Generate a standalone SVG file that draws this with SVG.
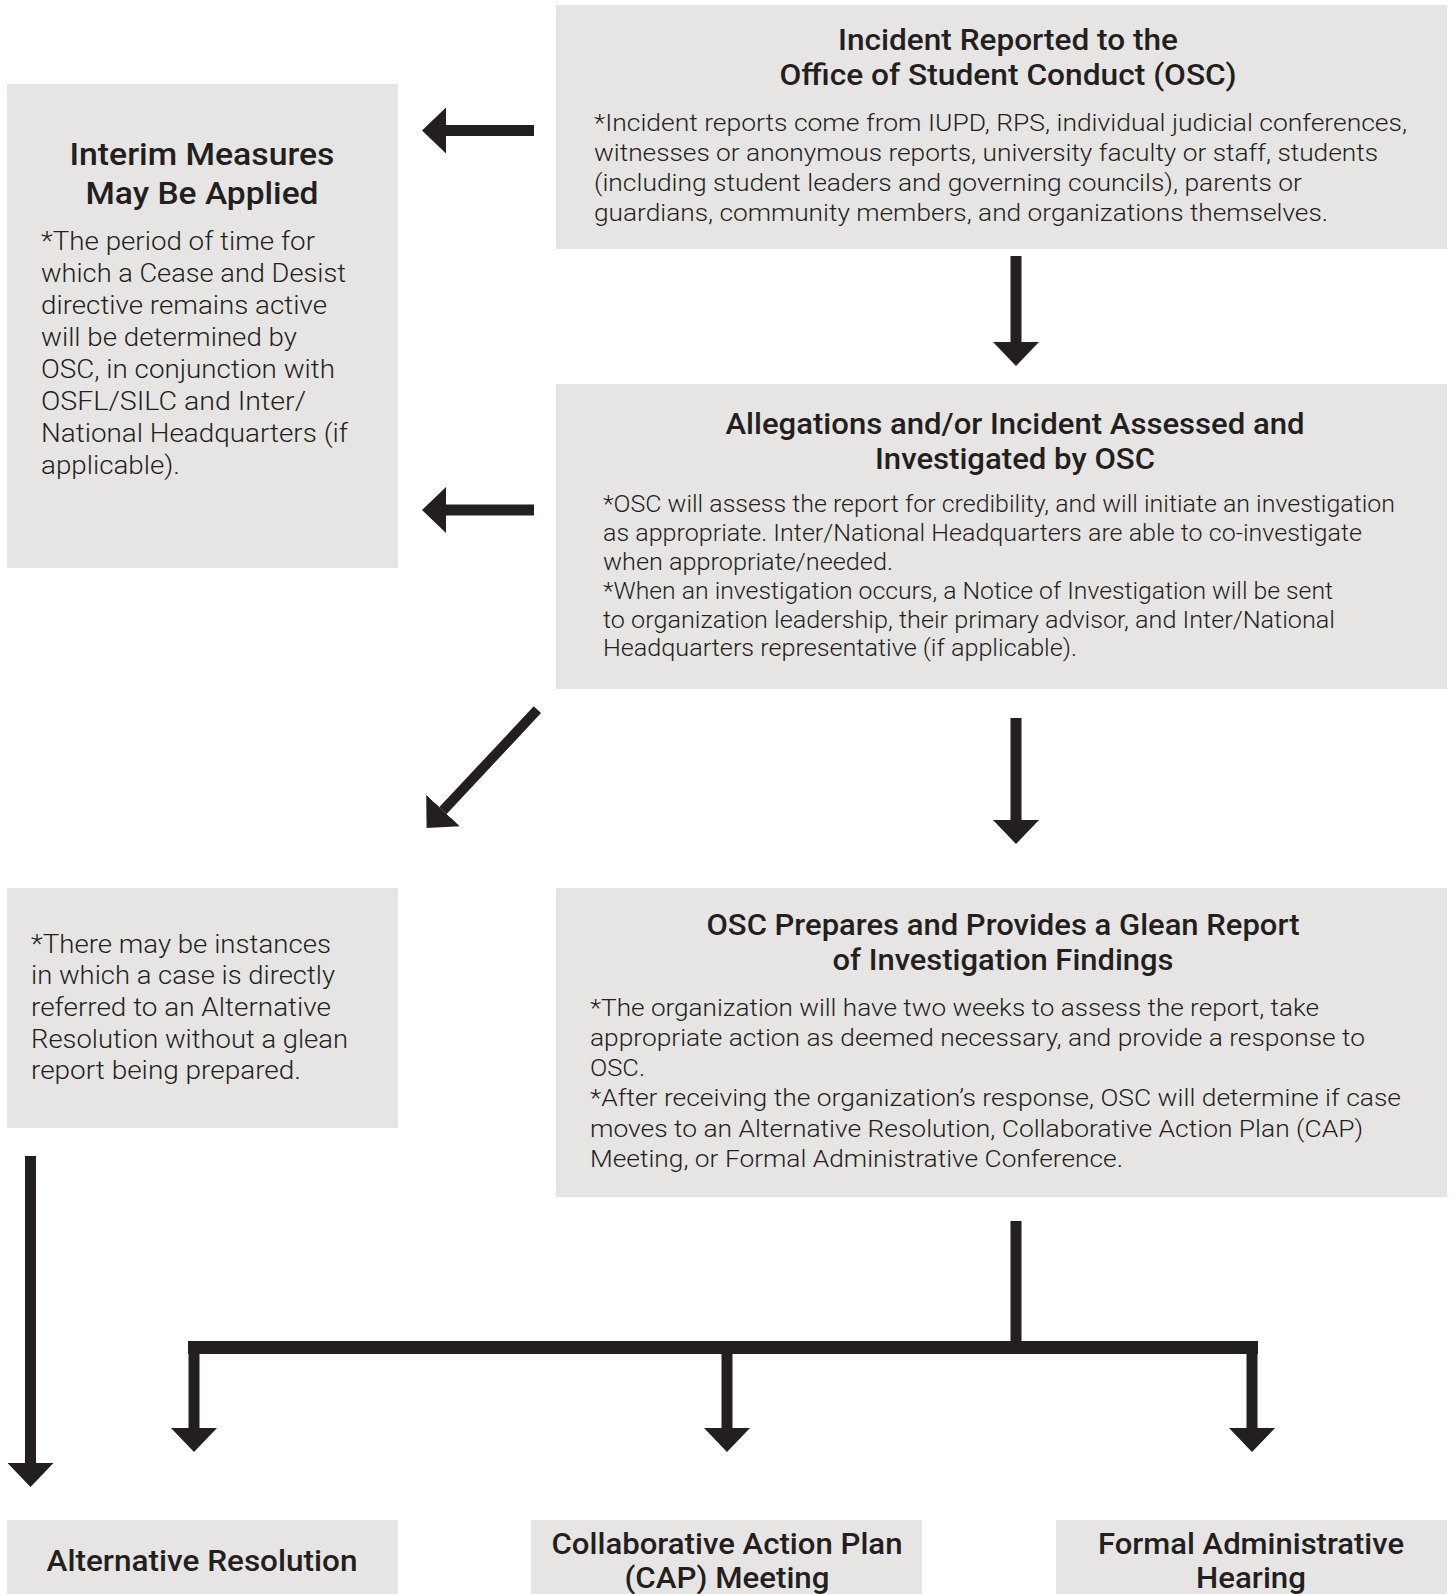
<svg xmlns="http://www.w3.org/2000/svg" width="1453" height="1594" viewBox="0 0 1453 1594">
<defs>
<marker id="ah" markerUnits="userSpaceOnUse" viewBox="0 -23 24 46" markerWidth="24" markerHeight="46" refX="0" refY="0" orient="auto">
<path d="M0,-23 L24,0 L0,23 Z" fill="#231f20"/>
</marker>
<style>
.box{fill:#e6e5e3}
.t{font-family:Roboto,"Liberation Sans",sans-serif;font-weight:500;fill:#231f20;text-anchor:middle}
.b{font-family:Roboto,"Liberation Sans",sans-serif;font-weight:300;fill:#231f20}
.c{stroke:#231f20;fill:none;stroke-width:11}
</style>
</defs>
<rect width="1453" height="1594" fill="#ffffff"/>

<g id="node-incident">
<rect class="box" x="556" y="5" width="891" height="244"/>
<text class="t" font-size="29" x="1008" y="50" textLength="340" lengthAdjust="spacingAndGlyphs">Incident Reported to the</text>
<text class="t" font-size="29" x="1008" y="85" textLength="457" lengthAdjust="spacingAndGlyphs">Office of Student Conduct (OSC)</text>
<text class="b" font-size="24" x="594" y="131" textLength="813" lengthAdjust="spacingAndGlyphs">*Incident reports come from IUPD, RPS, individual judicial conferences,</text>
<text class="b" font-size="24" x="594" y="161" textLength="784" lengthAdjust="spacingAndGlyphs">witnesses or anonymous reports, university faculty or staff, students</text>
<text class="b" font-size="24" x="594" y="191" textLength="708" lengthAdjust="spacingAndGlyphs">(including student leaders and governing councils), parents or</text>
<text class="b" font-size="24" x="594" y="221" textLength="734" lengthAdjust="spacingAndGlyphs">guardians, community members, and organizations themselves.</text>
</g>

<g id="node-interim">
<rect class="box" x="7" y="84" width="391" height="484"/>
<text class="t" font-size="31" x="202" y="165" textLength="265" lengthAdjust="spacingAndGlyphs">Interim Measures</text>
<text class="t" font-size="31" x="202" y="204" textLength="233" lengthAdjust="spacingAndGlyphs">May Be Applied</text>
<text class="b" font-size="25" x="41" y="250" textLength="274" lengthAdjust="spacingAndGlyphs">*The period of time for</text>
<text class="b" font-size="25" x="41" y="282" textLength="305" lengthAdjust="spacingAndGlyphs">which a Cease and Desist</text>
<text class="b" font-size="25" x="41" y="314" textLength="286" lengthAdjust="spacingAndGlyphs">directive remains active</text>
<text class="b" font-size="25" x="41" y="346" textLength="256" lengthAdjust="spacingAndGlyphs">will be determined by</text>
<text class="b" font-size="25" x="41" y="378" textLength="294" lengthAdjust="spacingAndGlyphs">OSC, in conjunction with</text>
<text class="b" font-size="25" x="41" y="410" textLength="265" lengthAdjust="spacingAndGlyphs">OSFL/SILC and Inter/</text>
<text class="b" font-size="25" x="41" y="442" textLength="307" lengthAdjust="spacingAndGlyphs">National Headquarters (if</text>
<text class="b" font-size="25" x="41" y="474" textLength="139" lengthAdjust="spacingAndGlyphs">applicable).</text>
</g>

<g id="node-assessed">
<rect class="box" x="556" y="384" width="891" height="305"/>
<text class="t" font-size="29" x="1015" y="434" textLength="579" lengthAdjust="spacingAndGlyphs">Allegations and/or Incident Assessed and</text>
<text class="t" font-size="29" x="1015" y="469" textLength="280" lengthAdjust="spacingAndGlyphs">Investigated by OSC</text>
<text class="b" font-size="23" x="603" y="512" textLength="792" lengthAdjust="spacingAndGlyphs">*OSC will assess the report for credibility, and will initiate an investigation</text>
<text class="b" font-size="23" x="603" y="541" textLength="759" lengthAdjust="spacingAndGlyphs">as appropriate. Inter/National Headquarters are able to co-investigate</text>
<text class="b" font-size="23" x="603" y="570" textLength="290" lengthAdjust="spacingAndGlyphs">when appropriate/needed.</text>
<text class="b" font-size="23" x="603" y="599" textLength="730" lengthAdjust="spacingAndGlyphs">*When an investigation occurs, a Notice of Investigation will be sent</text>
<text class="b" font-size="23" x="603" y="628" textLength="732" lengthAdjust="spacingAndGlyphs">to organization leadership, their primary advisor, and Inter/National</text>
<text class="b" font-size="23" x="603" y="656" textLength="474" lengthAdjust="spacingAndGlyphs">Headquarters representative (if applicable).</text>
</g>

<g id="node-direct-note">
<rect class="box" x="7" y="888" width="391" height="240"/>
<text class="b" font-size="25" x="31" y="953" textLength="300" lengthAdjust="spacingAndGlyphs">*There may be instances</text>
<text class="b" font-size="25" x="31" y="984" textLength="304" lengthAdjust="spacingAndGlyphs">in which a case is directly</text>
<text class="b" font-size="25" x="31" y="1016" textLength="300" lengthAdjust="spacingAndGlyphs">referred to an Alternative</text>
<text class="b" font-size="25" x="31" y="1048" textLength="317" lengthAdjust="spacingAndGlyphs">Resolution without a glean</text>
<text class="b" font-size="25" x="31" y="1079" textLength="270" lengthAdjust="spacingAndGlyphs">report being prepared.</text>
</g>

<g id="node-glean">
<rect class="box" x="556" y="888" width="891" height="309"/>
<text class="t" font-size="29" x="1003" y="935" textLength="593" lengthAdjust="spacingAndGlyphs">OSC Prepares and Provides a Glean Report</text>
<text class="t" font-size="29" x="1003" y="970" textLength="341" lengthAdjust="spacingAndGlyphs">of Investigation Findings</text>
<text class="b" font-size="24" x="590" y="1016" textLength="729" lengthAdjust="spacingAndGlyphs">*The organization will have two weeks to assess the report, take</text>
<text class="b" font-size="24" x="590" y="1046" textLength="775" lengthAdjust="spacingAndGlyphs">appropriate action as deemed necessary, and provide a response to</text>
<text class="b" font-size="24" x="590" y="1076" textLength="55" lengthAdjust="spacingAndGlyphs">OSC.</text>
<text class="b" font-size="24" x="590" y="1106" textLength="811" lengthAdjust="spacingAndGlyphs">*After receiving the organization’s response, OSC will determine if case</text>
<text class="b" font-size="24" x="590" y="1137" textLength="773" lengthAdjust="spacingAndGlyphs">moves to an Alternative Resolution, Collaborative Action Plan (CAP)</text>
<text class="b" font-size="24" x="590" y="1167" textLength="533" lengthAdjust="spacingAndGlyphs">Meeting, or Formal Administrative Conference.</text>
</g>

<g id="node-alternative">
<rect class="box" x="7" y="1520" width="391" height="80"/>
<text class="t" font-size="30" x="202" y="1571" textLength="311" lengthAdjust="spacingAndGlyphs">Alternative Resolution</text>
</g>

<g id="node-cap">
<rect class="box" x="531" y="1520" width="391" height="80"/>
<text class="t" font-size="30" x="727" y="1554" textLength="351" lengthAdjust="spacingAndGlyphs">Collaborative Action Plan</text>
<text class="t" font-size="30" x="727" y="1588" textLength="205" lengthAdjust="spacingAndGlyphs">(CAP) Meeting</text>
</g>

<g id="node-formal">
<rect class="box" x="1056" y="1520" width="391" height="80"/>
<text class="t" font-size="30" x="1251" y="1554" textLength="306" lengthAdjust="spacingAndGlyphs">Formal Administrative</text>
<text class="t" font-size="30" x="1251" y="1588" textLength="110" lengthAdjust="spacingAndGlyphs">Hearing</text>
</g>

<g id="connectors">
<path class="c" d="M534,130.5 L446,130.5" marker-end="url(#ah)"/>
<path class="c" d="M534,510 L446,510" marker-end="url(#ah)"/>
<path class="c" d="M1016,256 L1016,342" marker-end="url(#ah)"/>
<path class="c" style="stroke-width:10" d="M537.4,709.7 L443,810.5" marker-end="url(#ah)"/>
<path class="c" d="M1016,718 L1016,820" marker-end="url(#ah)"/>
<path class="c" d="M30.5,1156 L30.5,1463" marker-end="url(#ah)"/>
<path class="c" d="M1016,1221 L1016,1345"/>
<path class="c" style="stroke-width:13" d="M188,1347.5 H1258"/>
<path class="c" d="M194,1345 V1428" marker-end="url(#ah)"/>
<path class="c" d="M727,1345 V1428" marker-end="url(#ah)"/>
<path class="c" d="M1252,1345 V1428" marker-end="url(#ah)"/>
</g>
</svg>
